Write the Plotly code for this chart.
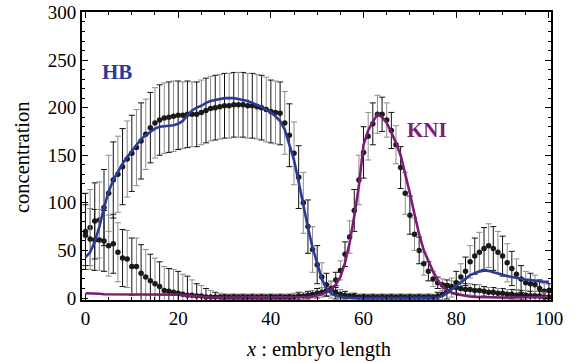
import plotly.graph_objects as go

# ---------------- data ----------------
x_pos = list(range(0, 101))

hb_data = [70, 74, 81, 82, 95, 110, 124, 130, 138, 146,
           152, 158, 165, 172, 179, 184, 187, 189, 190, 191,
           192, 192, 193, 193, 193, 195, 197, 199, 200, 201,
           202, 202, 203, 203, 203, 202, 202, 201, 200, 198,
           196, 195, 194, 184, 171, 152, 127, 100, 75, 51,
           35, 22, 14, 9, 6, 4, 3, 2, 2, 1,
           1, 1, 1, 1, 1, 1, 1, 1, 1, 1,
           1, 1, 1, 1, 1, 1, 2, 4, 7, 11,
           16, 22, 28, 38, 44, 48, 52, 55, 52, 48,
           44, 37, 31, 25, 20, 16, 15, 14, 10, 7,
           8]

hb_err = [40, 40, 40, 40, 40, 40, 40, 40, 40, 40,
          40, 40, 40, 37, 37, 37, 37, 37, 37, 37,
          36, 35, 35, 34, 34, 34, 34, 34, 34, 34,
          34, 34, 34, 34, 34, 34, 34, 34, 34, 34,
          33, 33, 33, 33, 33, 33, 33, 32, 28, 24,
          20, 15, 12, 9, 7, 5, 4, 3, 3, 3,
          3, 3, 3, 3, 3, 3, 3, 3, 3, 3,
          3, 3, 3, 3, 3, 3, 4, 6, 8, 10,
          12, 14, 15, 17, 19, 21, 22, 23, 23, 22,
          21, 20, 18, 16, 14, 12, 11, 10, 9, 8,
          7]

kni_data = [66, 62, 61, 61, 60, 55, 57, 48, 42, 41,
            33, 33, 26, 22, 18, 15, 12, 8, 7, 6,
            5, 4, 3, 3, 2, 2, 1, 1, 1, 1,
            1, 1, 1, 1, 1, 1, 1, 1, 1, 1,
            1, 1, 1, 1, 1, 1, 2, 2, 3, 4,
            5, 6, 8, 10, 19, 29, 46, 64, 92, 124,
            153, 170, 183, 193, 193, 187, 176, 161, 137, 110,
            87, 67, 50, 36, 28, 20, 16, 14, 13, 12,
            11, 10, 9, 9, 8, 8, 7, 6, 6, 5,
            5, 4, 4, 3, 3, 3, 2, 2, 2, 1,
            1]

kni_err = [32, 32, 32, 32, 32, 32, 31, 31, 30, 30,
           30, 30, 30, 29, 28, 27, 26, 25, 24, 24,
           23, 21, 20, 16, 13, 11, 9, 7, 5, 4,
           3, 3, 3, 3, 3, 3, 3, 3, 3, 3,
           3, 3, 3, 3, 3, 4, 4, 4, 4, 4,
           5, 5, 6, 7, 8, 10, 13, 17, 22, 26,
           27, 25, 22, 20, 18, 18, 19, 20, 22, 22,
           20, 17, 14, 12, 10, 8, 6, 6, 6, 6,
           6, 6, 6, 6, 6, 6, 5, 5, 5, 5,
           5, 5, 5, 5, 5, 5, 5, 5, 5, 5,
           5]

hb_fit = [43, 48, 59, 75, 95, 112, 124, 133, 141, 148,
          154, 161, 167, 171, 175, 178, 180, 180.5, 181, 181.5,
          183, 186, 192, 197, 200, 202, 205, 207, 208, 209,
          210, 210, 210, 209, 208, 207, 205, 203, 201, 198,
          195, 191, 186, 177, 162, 145, 122, 97, 74, 53,
          35, 20, 10, 5, 2, 1, 0.5, 0.3, 0.2, 0.1,
          0, 0, 0, 0, 0, 0, 0, 0, 0, 0,
          0, 0, 0, 0, 0, 0, 0.5, 2, 5, 9,
          13, 17, 21, 24, 26, 28, 29, 28.5, 27, 25.5,
          24, 23, 22, 21, 20, 19.5, 19, 18, 17.5, 17,
          17]

kni_fit = [5, 5, 4.5, 4.5, 4, 4, 4, 4, 4, 4,
           4, 4, 4, 4, 4, 4, 3.5, 3.5, 3.5, 3.5,
           3.5, 3, 2.5, 2, 1.5, 1, 0.7, 0.5, 0.5, 0.5,
           0.3, 0.3, 0.3, 0.3, 0.3, 0.3, 0.3, 0.3, 0.3, 0.3,
           0.3, 0.3, 0.3, 0.3, 0.3, 0.3, 0.3, 0.5, 1, 1.5,
           2.5, 4, 6, 9, 14, 22, 37, 58, 86, 118,
           161, 176, 185, 193, 190, 184, 174, 163, 150, 131,
           110, 88, 67, 50, 38, 28, 19, 12, 8, 5.5,
           4, 3, 2, 1.5, 1, 0.8, 0.6, 0.5, 0.5, 0.5,
           0.5, 0.5, 0.5, 0.5, 0.6, 0.7, 0.8, 0.9, 1, 1,
           1]

x_ticks = [0, 20, 40, 60, 80, 100]
y_ticks = [0, 50, 100, 150, 200, 250, 300]

BLUE = "#2b3a97"
PURPLE = "#7e1b72"
SERIF = "Times New Roman, Liberation Serif, serif"

fig = go.Figure()


def add_points(xs, ys, es):
    # alternate black / grey error bars, as in the original raster
    for parity, col in ((0, "#111111"), (1, "#8c8c8c")):
        sx = [x for i, x in enumerate(xs) if i % 2 == parity]
        sy = [y for i, y in enumerate(ys) if i % 2 == parity]
        se = [e for i, e in enumerate(es) if i % 2 == parity]
        fig.add_trace(go.Scatter(
            x=sx, y=sy, mode="markers",
            marker=dict(size=5.5, color="#1a1a1a"),
            error_y=dict(type="data", array=se, visible=True,
                         color=col, thickness=1, width=3),
            showlegend=False, hoverinfo="skip"))


add_points(x_pos, hb_data, hb_err)
add_points(x_pos, kni_data, kni_err)

fig.add_trace(go.Scatter(x=x_pos, y=kni_fit, mode="lines",
                         line=dict(color=PURPLE, width=2.6),
                         showlegend=False, hoverinfo="skip"))
fig.add_trace(go.Scatter(x=x_pos, y=hb_fit, mode="lines",
                         line=dict(color=BLUE, width=2.6),
                         showlegend=False, hoverinfo="skip"))

fig.add_annotation(x=6.7, y=237, xref="x", yref="y", text="<b>HB</b>",
                   showarrow=False, xanchor="center", yanchor="middle",
                   font=dict(family=SERIF, size=21, color=BLUE))
fig.add_annotation(x=73.7, y=177, xref="x", yref="y", text="<b>KNI</b>",
                   showarrow=False, xanchor="center", yanchor="middle",
                   font=dict(family=SERIF, size=21, color=PURPLE))

fig.add_annotation(x=(22 - 82) / 469, y=(300 - 157) / 288, xref="paper", yref="paper",
                   text="concentration", textangle=-90, showarrow=False,
                   xanchor="center", yanchor="middle",
                   font=dict(family=SERIF, size=20.5, color="black"))
fig.add_annotation(x=(318 - 82) / 469, y=(300 - 349) / 288, xref="paper", yref="paper",
                   text="<i>x</i> : embryo length", showarrow=False,
                   xanchor="center", yanchor="middle",
                   font=dict(family=SERIF, size=20.5, color="black"))

axis_common = dict(
    showgrid=False, zeroline=False, automargin=False,
    showline=True, linewidth=2, linecolor="black", mirror="ticks",
    ticks="inside", ticklen=6, tickwidth=1, tickcolor="black",
    tickfont=dict(family=SERIF, size=19, color="black"),
)

fig.update_xaxes(range=[-0.75, 100.45], tickvals=x_ticks,
                 ticktext=[str(v) for v in x_ticks],
                 minor=dict(dtick=5, tick0=0, ticks="inside", ticklen=3,
                            tickcolor="black", tickwidth=1),
                 **axis_common)
fig.update_yaxes(range=[-2.1, 300.5], tickvals=y_ticks,
                 ticktext=[str(v) for v in y_ticks],
                 minor=dict(dtick=10, tick0=0, ticks="inside", ticklen=3,
                            tickcolor="black", tickwidth=1),
                 **axis_common)

fig.update_layout(
    width=575, height=363,
    margin=dict(l=82, r=24, t=12, b=63, autoexpand=False),
    paper_bgcolor="white", plot_bgcolor="white",
    showlegend=False,
    hovermode=False,
)

# remove the default page margin so the figure sits at the window origin
fig.write_html("out.html",
               config={"displayModeBar": False},
               post_script="document.body.style.margin='0';"
                           "document.body.style.overflow='hidden';")
